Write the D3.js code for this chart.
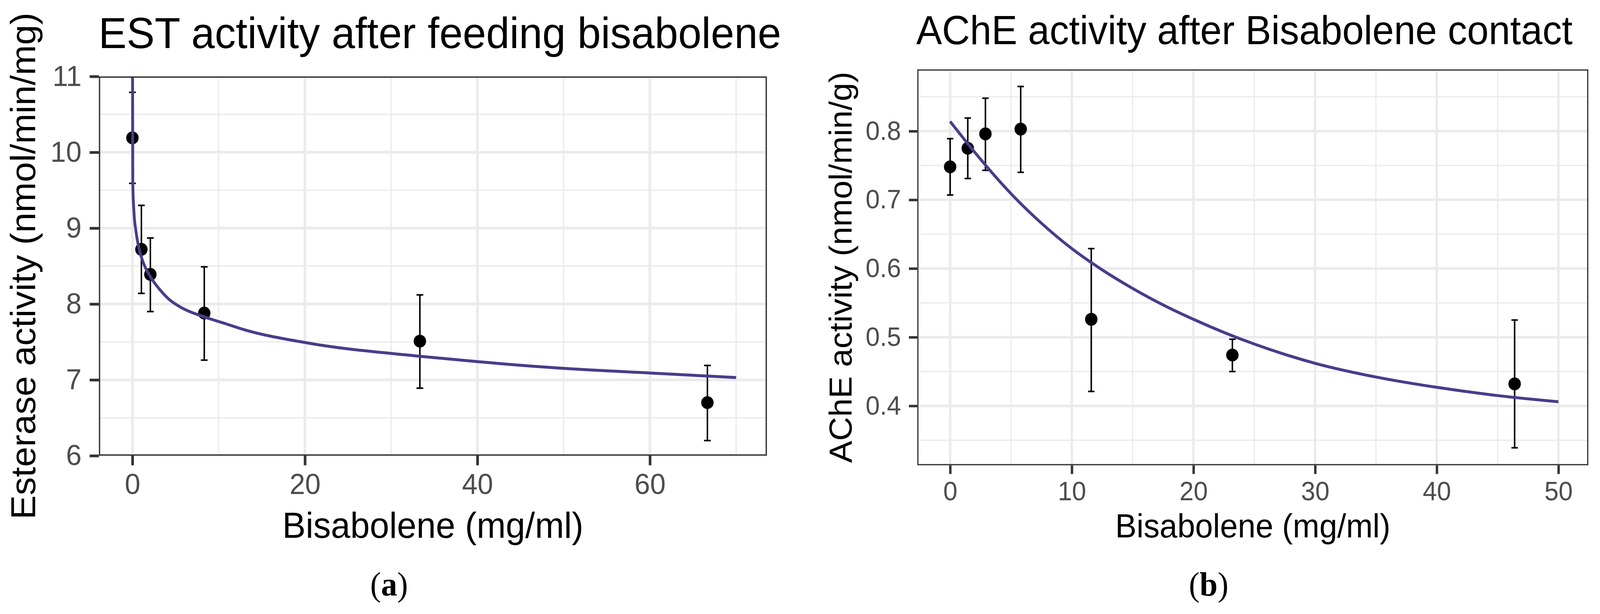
<!DOCTYPE html>
<html>
<head>
<meta charset="utf-8">
<script src="https://cdn.jsdelivr.net/npm/d3@7"></script>
<style>
  html, body { margin: 0; padding: 0; background: #ffffff; overflow: hidden; }
  svg { display: block; width: 100vw; height: 100vh; }
</style>
</head>
<body>
<svg id="chart" viewBox="0 0 4256 1571" preserveAspectRatio="none"></svg>
<script>
// ---------------- Panel (a): EST activity ----------------
const estDose    = [0, 1.04, 2.08, 8.33, 33.33, 66.67];
const estMean    = [10.19, 8.72, 8.39, 7.88, 7.51, 6.70];
const estLow     = [9.59, 8.14, 7.90, 7.26, 6.89, 6.20];
const estHigh    = [10.79, 9.30, 8.87, 8.49, 8.12, 7.19];
const estFitX    = [0.015, 0.044, 0.19, 0.41, 0.77, 1.35, 2.08, 3.10, 4.26, 5.71, 8.33, 10.8, 13.0, 20.1, 33.4, 40.0, 50.2, 60.1, 70.0];
const estFitY    = [11.0, 9.59, 9.19, 8.96, 8.73, 8.52, 8.36, 8.20, 8.06, 7.95, 7.83, 7.74, 7.66, 7.49, 7.31, 7.24, 7.15, 7.09, 7.03];
const estXTicks  = [0, 20, 40, 60];
const estXLabels = ["0", "20", "40", "60"];
const estXMinor  = [10, 30, 50, 70];
const estYTicks  = [6, 7, 8, 9, 10, 11];
const estYLabels = ["6", "7", "8", "9", "10", "11"];
const estYMinor  = [6.5, 7.5, 8.5, 9.5, 10.5];

// ---------------- Panel (b): AChE activity ----------------
const acheDose    = [0, 1.45, 2.9, 5.8, 11.6, 23.2, 46.4];
const acheMean    = [0.748, 0.775, 0.796, 0.803, 0.526, 0.474, 0.432];
const acheLow     = [0.707, 0.731, 0.743, 0.740, 0.421, 0.450, 0.339];
const acheHigh    = [0.789, 0.819, 0.848, 0.865, 0.629, 0.497, 0.525];
const acheFitX    = [0, 2.5, 5, 7.5, 10, 12.5, 15, 17.5, 20, 22.5, 25, 27.5, 30, 35, 40, 45, 50];
const acheFitY    = [0.814, 0.759, 0.709, 0.666, 0.629, 0.598, 0.571, 0.547, 0.526, 0.507, 0.490, 0.475, 0.462, 0.442, 0.427, 0.415, 0.406];
const acheXTicks  = [0, 10, 20, 30, 40, 50];
const acheXLabels = ["0", "10", "20", "30", "40", "50"];
const acheXMinor  = [5, 15, 25, 35, 45];
const acheYTicks  = [0.4, 0.5, 0.6, 0.7, 0.8];
const acheYLabels = ["0.4", "0.5", "0.6", "0.7", "0.8"];
const acheYMinor  = [0.35, 0.45, 0.55, 0.65, 0.75, 0.85];

const SANS = "'Liberation Sans', Arial, Helvetica, sans-serif";
const SERIF = "'Liberation Serif', 'Times New Roman', serif";
const svg = d3.select("#chart");
svg.append("rect").attr("width", 4256).attr("height", 1571).attr("fill", "#ffffff");

function drawPanel(o) {
  const g = svg.append("g");
  const x = d3.scaleLinear().domain(o.xDomain).range([o.left, o.right]);
  const y = d3.scaleLinear().domain(o.yDomain).range([o.bottom, o.top]);
  const W = o.right - o.left, H = o.bottom - o.top;

  svg.append("clipPath").attr("id", o.id + "-clip")
    .append("rect").attr("x", o.left).attr("y", o.top).attr("width", W).attr("height", H);
  const plot = g.append("g").attr("clip-path", `url(#${o.id}-clip)`);

  // grid: minor then major
  const grid = (vals, vertical, w) => plot.append("g").selectAll("line").data(vals).join("line")
    .attr("x1", d => vertical ? x(d) : o.left).attr("x2", d => vertical ? x(d) : o.right)
    .attr("y1", d => vertical ? o.top : y(d)).attr("y2", d => vertical ? o.bottom : y(d))
    .attr("stroke", "#EBEBEB").attr("stroke-width", w);
  grid(o.yMinor, false, o.lw / 2);
  grid(o.xMinor, true, o.lw / 2);
  grid(o.yTicks, false, o.lw);
  grid(o.xTicks, true, o.lw);

  const idx = d3.range(o.dose.length);
  // error bars
  const eb = plot.append("g").attr("stroke", "#000").attr("stroke-width", o.ebw);
  eb.selectAll(".v").data(idx).join("line").attr("class", "v")
    .attr("x1", i => x(o.dose[i])).attr("x2", i => x(o.dose[i]))
    .attr("y1", i => y(o.low[i])).attr("y2", i => y(o.high[i]));
  eb.selectAll(".t").data(idx).join("line").attr("class", "t")
    .attr("x1", i => x(o.dose[i]) - o.cap).attr("x2", i => x(o.dose[i]) + o.cap)
    .attr("y1", i => y(o.high[i])).attr("y2", i => y(o.high[i]));
  eb.selectAll(".b").data(idx).join("line").attr("class", "b")
    .attr("x1", i => x(o.dose[i]) - o.cap).attr("x2", i => x(o.dose[i]) + o.cap)
    .attr("y1", i => y(o.low[i])).attr("y2", i => y(o.low[i]));

  // points
  plot.append("g").selectAll("circle").data(idx).join("circle")
    .attr("cx", i => x(o.dose[i])).attr("cy", i => y(o.mean[i])).attr("r", o.r).attr("fill", "#000");

  // fitted curve
  const line = d3.line().x(i => x(o.fitX[i])).y(i => y(o.fitY[i])).curve(d3.curveMonotoneX);
  plot.append("path").attr("d", line(d3.range(o.fitX.length)))
    .attr("fill", "none").attr("stroke", "#483D8B").attr("stroke-width", o.clw)
    .attr("stroke-linejoin", "round");

  // panel border (drawn inside the panel)
  g.append("rect").attr("x", o.left + o.lw / 4).attr("y", o.top + o.lw / 4)
    .attr("width", W - o.lw / 2).attr("height", H - o.lw / 2)
    .attr("fill", "none").attr("stroke", "#333333").attr("stroke-width", o.lw / 2);

  const styleAxis = a => {
    a.select(".domain").remove();
    a.attr("font-family", SANS).attr("font-size", o.tickFs);
    a.selectAll(".tick line").attr("stroke", "#333333").attr("stroke-width", o.lw);
    a.selectAll(".tick text").attr("fill", "#4D4D4D");
  };
  g.append("g").attr("transform", `translate(0,${o.bottom})`)
    .call(d3.axisBottom(x).tickValues(o.xTicks).tickFormat((d, i) => o.xLabels[i])
      .tickSize(o.tickLen).tickPadding(o.xPad))
    .call(styleAxis);
  g.append("g").attr("transform", `translate(${o.left},0)`)
    .call(d3.axisLeft(y).tickValues(o.yTicks).tickFormat((d, i) => o.yLabels[i])
      .tickSize(o.tickLen).tickPadding(o.yPad))
    .call(styleAxis);

  // titles
  g.append("text").attr("x", o.titleX).attr("y", o.titleY)
    .attr("font-family", SANS).attr("font-size", o.titleFs).attr("fill", "#000")
    .text(o.title);
  g.append("text").attr("x", (o.left + o.right) / 2).attr("y", o.xTitleY)
    .attr("text-anchor", "middle").attr("font-family", SANS).attr("font-size", o.axisFs)
    .attr("fill", "#000").text(o.xTitle);
  g.append("text").attr("transform", `translate(${o.yTitleX},${(o.top + o.bottom) / 2}) rotate(-90)`)
    .attr("text-anchor", "middle").attr("font-family", SANS).attr("font-size", o.axisFs)
    .attr("fill", "#000").text(o.yTitle);

  // sub-figure label
  const lab = g.append("text").attr("x", o.labX).attr("y", 1524).attr("text-anchor", "middle")
    .attr("font-family", SERIF).attr("font-size", 86).attr("fill", "#000");
  lab.append("tspan").text("(");
  lab.append("tspan").attr("font-weight", "bold").text(o.letter);
  lab.append("tspan").text(")");
}

drawPanel({
  id: "est", left: 263, right: 2040, top: 195.5, bottom: 1166,
  xDomain: [-3.89, 73.57], yDomain: [6, 11],
  dose: estDose, mean: estMean, low: estLow, high: estHigh, fitX: estFitX, fitY: estFitY,
  xTicks: estXTicks, xLabels: estXLabels, xMinor: estXMinor,
  yTicks: estYTicks, yLabels: estYLabels, yMinor: estYMinor,
  lw: 7, ebw: 4, cap: 9, r: 16.5, clw: 7.5,
  tickLen: 24.5, xPad: 21, yPad: 21.5, tickFs: 74.5,
  title: "EST activity after feeding bisabolene", titleX: 262, titleY: 122.7, titleFs: 112,
  xTitle: "Bisabolene (mg/ml)", xTitleY: 1376, axisFs: 93,
  yTitle: "Esterase activity (nmol/min/mg)", yTitleX: 94,
  labX: 1035, letter: "a"
});

drawPanel({
  id: "ache", left: 2440, right: 4225, top: 177.5, bottom: 1190.5,
  xDomain: [-2.70, 52.46], yDomain: [0.3135, 0.8899],
  dose: acheDose, mean: acheMean, low: acheLow, high: acheHigh, fitX: acheFitX, fitY: acheFitY,
  xTicks: acheXTicks, xLabels: acheXLabels, xMinor: acheXMinor,
  yTicks: acheYTicks, yLabels: acheYLabels, yMinor: acheYMinor,
  lw: 6.4, ebw: 4, cap: 8.5, r: 16.5, clw: 7.5,
  tickLen: 22.3, xPad: 19, yPad: 20.9, tickFs: 67.8,
  title: "AChE activity after Bisabolene contact", titleX: 2437, titleY: 113.3, titleFs: 103,
  xTitle: "Bisabolene (mg/ml)", xTitleY: 1375, axisFs: 85,
  yTitle: "AChE activity (nmol/min/g)", yTitleX: 2265,
  labX: 3215, letter: "b"
});
</script>
</body>
</html>
